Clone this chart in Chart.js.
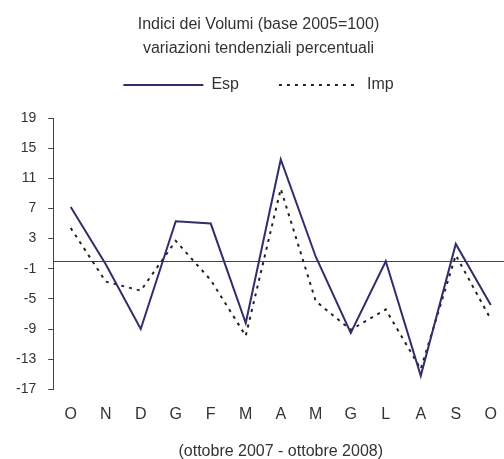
<!DOCTYPE html>
<html>
<head>
<meta charset="utf-8">
<script src="https://cdn.jsdelivr.net/npm/chart.js@4"></script>
<style>
  html, body { margin: 0; padding: 0; background: #fff; overflow: hidden; }
  #wrap { width: 504px; height: 459px; overflow: hidden; }
</style>
</head>
<body>
<div id="wrap"><canvas id="myChart" width="513" height="459"></canvas></div>
<script>
// months, ottobre 2007 - ottobre 2008
let months = ["O", "N", "D", "G", "F", "M", "A", "M", "G", "L", "A", "S", "O"];
// variazioni tendenziali %
let esp = [7.2, -0.4, -9.0, 5.3, 5.0, -8.2, 13.5, 0.6, -9.5, 0.0, -15.2, 2.3, -5.8];
let imp = [4.4, -2.7, -3.9, 2.7, -2.5, -9.9, 9.6, -5.3, -9.1, -6.4, -14.3, 0.8, -7.7];
let yMin = -17;
let yMax = 19;
let yStep = 4;

let textColor = "#333";
let fontName = "'Liberation Sans', Arial, sans-serif";

// line across the plot at zero
const zeroLine = {
    id: "zeroLine",
    beforeDatasetsDraw(chart) {
        let ctx = chart.ctx;
        let area = chart.chartArea;
        let y = Math.round(chart.scales.y.getPixelForValue(0)) + 0.5;
        ctx.save();
        ctx.strokeStyle = "#444";
        ctx.lineWidth = 1;
        ctx.beginPath();
        ctx.moveTo(area.left, y);
        ctx.lineTo(area.right, y);
        ctx.stroke();
        ctx.restore();
    },
};

// more room under the legend
const legendGap = {
    id: "legendGap",
    beforeInit(chart) {
        const origFit = chart.legend.fit;
        chart.legend.fit = function () {
            origFit.bind(chart.legend)();
            this.height += 15;
        };
    },
};

const data = {
    labels: months,
    datasets: [
        {
            label: "Esp",
            data: esp,
            borderColor: "#2f2f6b",
            backgroundColor: "#2f2f6b",
            borderWidth: 2,
            pointRadius: 0,
            tension: 0,
        },
        {
            label: "Imp",
            data: imp,
            borderColor: "#222",
            backgroundColor: "#222",
            borderWidth: 2,
            borderDash: [3, 5],
            pointRadius: 0,
            tension: 0,
        },
    ],
};

const config = {
    type: "line",
    data: data,
    plugins: [zeroLine, legendGap],
    options: {
        responsive: false,
        animation: false,
        layout: {
            padding: { left: 4, right: 0, top: 0, bottom: 0 },
        },
        plugins: {
            title: {
                display: true,
                text: ["Indici dei Volumi (base 2005=100)", "variazioni tendenziali percentuali"],
                color: textColor,
                font: { family: fontName, size: 16, weight: "normal", lineHeight: 1.5 },
                padding: { top: 13, bottom: -24 },
            },
            legend: {
                display: true,
                labels: {
                    color: textColor,
                    font: { family: fontName, size: 16 },
                    usePointStyle: true,
                    pointStyle: "line",
                    pointStyleWidth: 80,
                    boxWidth: 80,
                    boxHeight: 2,
                    padding: 40,
                    generateLabels(chart) {
                        let items = Chart.defaults.plugins.legend.labels.generateLabels(chart);
                        items.forEach((item, i) => {
                            item.lineDash = chart.data.datasets[i].borderDash || [];
                            item.lineWidth = 2;
                        });
                        return items;
                    },
                },
            },
            tooltip: { enabled: false },
        },
        scales: {
            x: {
                offset: true,
                border: { display: false },
                grid: { display: false, drawTicks: false },
                ticks: {
                    color: textColor,
                    font: { family: fontName, size: 16, lineHeight: 1.2 },
                    padding: 16,
                    maxRotation: 0,
                    autoSkip: false,
                },
                title: {
                    display: true,
                    text: "(ottobre 2007 - ottobre 2008)",
                    color: textColor,
                    font: { family: fontName, size: 16, lineHeight: 0.9 },
                    padding: { top: 4, bottom: 0 },
                },
            },
            y: {
                min: yMin,
                max: yMax,
                border: { display: true, color: "#444", width: 1 },
                grid: {
                    drawOnChartArea: false,
                    drawTicks: true,
                    tickLength: 5,
                    color: "#444",
                },
                ticks: {
                    stepSize: yStep,
                    color: textColor,
                    font: { family: fontName, size: 14 },
                    padding: 12,
                },
            },
        },
    },
};

const myChart = new Chart(document.getElementById("myChart"), config);
</script>
</body>
</html>
